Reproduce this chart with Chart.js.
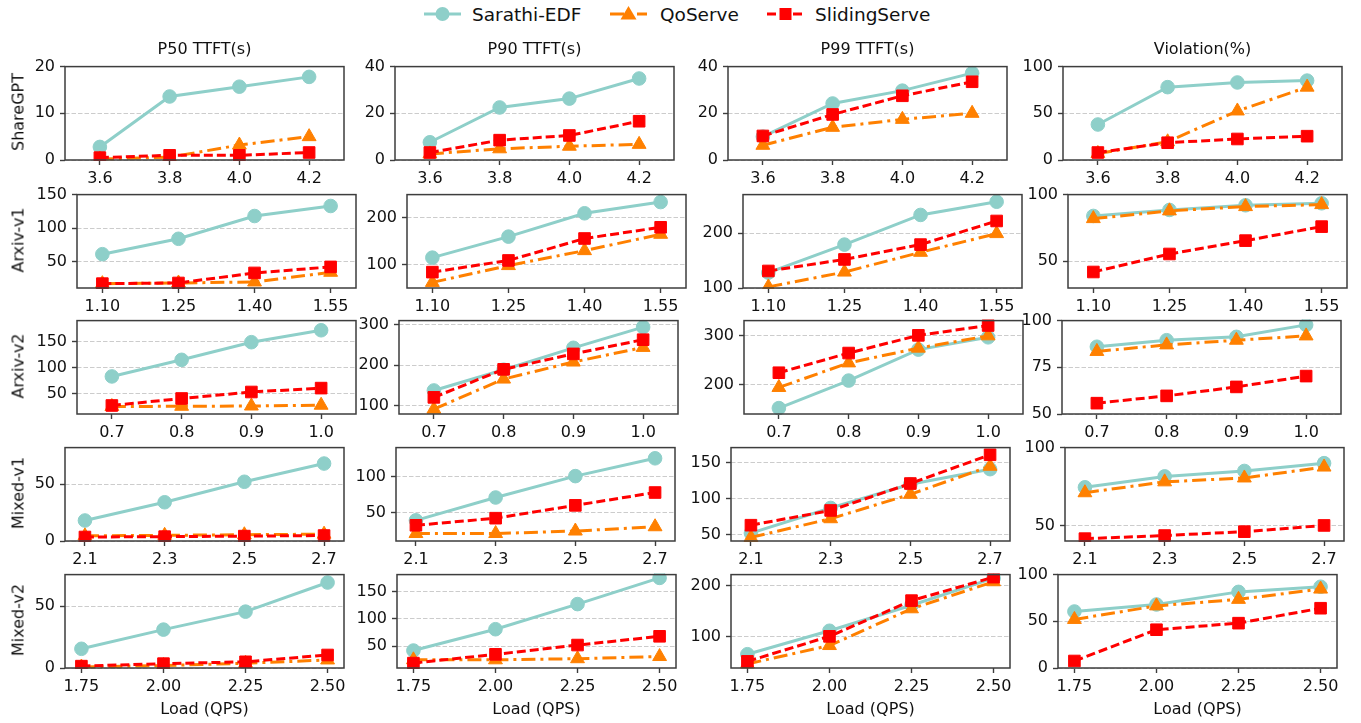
<!DOCTYPE html>
<html>
<head>
<meta charset="utf-8">
<script src="https://cdn.jsdelivr.net/npm/chart.js@4.4.0/dist/chart.umd.min.js"></script>
<style>
body { margin: 0; background: #fff; width: 1361px; height: 723px; position: relative; overflow: hidden; font-family: 'DejaVu Sans', sans-serif; }
canvas { position: absolute; }
.t { position: absolute; font-size: 16px; color: #111; white-space: nowrap; transform: translate(-50%, -50%); }
.yl { position: absolute; font-size: 16px; color: #111; white-space: nowrap; transform: translate(-50%, -50%) rotate(-90deg); }
.lg { position: absolute; font-size: 18.5px; color: #111; white-space: nowrap; transform: translateY(-50%); }
</style>
</head>
<body>
<svg width="1361" height="30" style="position:absolute;left:0;top:0">
  <line x1="424" y1="14" x2="461" y2="14" stroke="#8ECFC9" stroke-width="3"/>
  <circle cx="442.5" cy="14" r="7" fill="#8ECFC9"/>
  <line x1="610" y1="14" x2="647" y2="14" stroke="#FF8000" stroke-width="3" stroke-dasharray="14,5,3,5"/>
  <polygon points="628.5,6 636.5,19.5 620.5,19.5" fill="#FF8000"/>
  <line x1="767" y1="14" x2="804" y2="14" stroke="#FF0000" stroke-width="3" stroke-dasharray="9,4"/>
  <rect x="779.5" y="8" width="12" height="12" fill="#FF0000"/>
</svg>
<div class="lg" style="left:472px;top:14px">Sarathi-EDF</div>
<div class="lg" style="left:660px;top:14px">QoServe</div>
<div class="lg" style="left:815px;top:14px">SlidingServe</div>
<script>
// workloads (rows) and metrics (columns)
var workloads = ['ShareGPT', 'Arxiv-v1', 'Arxiv-v2', 'Mixed-v1', 'Mixed-v2'];
var metrics = ['P50 TTFT(s)', 'P90 TTFT(s)', 'P99 TTFT(s)', 'Violation(%)'];

var loads = [
    [3.6, 3.8, 4.0, 4.2],
    [1.10, 1.25, 1.40, 1.55],
    [0.7, 0.8, 0.9, 1.0],
    [2.1, 2.3, 2.5, 2.7],
    [1.75, 2.00, 2.25, 2.50]
];
var loadLabels = [
    ['3.6', '3.8', '4.0', '4.2'],
    ['1.10', '1.25', '1.40', '1.55'],
    ['0.7', '0.8', '0.9', '1.0'],
    ['2.1', '2.3', '2.5', '2.7'],
    ['1.75', '2.00', '2.25', '2.50']
];

// values per workload: [P50, P90, P99, Violation]
var sarathiShareGPT = [[2.8, 13.6, 15.7, 17.8], [7.6, 22.5, 26.3, 34.9], [10, 24.2, 29.7, 37.2], [38, 78, 83, 85]];
var qoShareGPT      = [[0.2, 0.6, 3.2, 5.0], [2.6, 4.8, 5.9, 6.7], [6.3, 14, 17.4, 20], [7, 19.5, 52.5, 78]];
var slidingShareGPT = [[0.5, 1.0, 1.0, 1.6], [3.2, 8.5, 10.5, 16.6], [10.3, 19.5, 27.5, 33.5], [8, 18.5, 22.5, 25.5]];

var sarathiArxiv1 = [[61, 84, 118, 133], [115, 160, 210, 234], [128, 179, 233, 257], [84, 88.5, 92, 93.5]];
var qoArxiv1      = [[17, 18, 19.5, 34], [62, 98, 130, 165], [102, 129, 165, 199], [82, 87.8, 91, 92.5]];
var slidingArxiv1 = [[17, 18, 33, 42], [84, 109, 156, 180], [131, 152, 179, 222], [42, 55.5, 65.5, 76]];

var sarathiArxiv2 = [[83, 115, 149, 172], [138, 189, 243, 294], [153, 209, 272, 297], [86, 89.5, 91.3, 97.7]];
var qoArxiv2      = [[25, 25.5, 26, 27.5], [92, 166, 208, 244], [195, 245, 275, 300], [83.5, 87, 89.5, 91.8]];
var slidingArxiv2 = [[27, 40.5, 53, 60.5], [121, 190, 228, 263], [225, 265, 301, 321], [55.8, 59.7, 64.5, 70.3]];

var sarathiMixed1 = [[18, 34, 52, 68], [39, 71, 101, 126], [52, 87, 120, 141], [74.5, 81.5, 85, 90]];
var qoMixed1      = [[4.5, 5, 5.5, 6], [20.5, 20.5, 24, 30], [46, 72, 106, 145], [71, 78, 80.5, 87.5]];
var slidingMixed1 = [[3.5, 3.8, 4.3, 4.8], [32, 42, 60, 78], [63, 83.5, 121, 161], [41.5, 43.5, 46, 50]];

var sarathiMixed2 = [[15.5, 31, 45.5, 69], [42, 81, 127, 175], [66, 112, 162, 215], [60.5, 68, 81.5, 87]];
var qoMixed2      = [[0.8, 2, 3.8, 6.5], [25, 25, 27, 31], [47, 83, 155, 208], [52, 66.5, 73.5, 84.5]];
var slidingMixed2 = [[1.5, 3.5, 5, 10.5], [19, 35, 52, 68], [52, 101, 171, 217], [7.5, 41, 48, 64]];

var sarathi = [sarathiShareGPT, sarathiArxiv1, sarathiArxiv2, sarathiMixed1, sarathiMixed2];
var qoserve = [qoShareGPT, qoArxiv1, qoArxiv2, qoMixed1, qoMixed2];
var sliding = [slidingShareGPT, slidingArxiv1, slidingArxiv2, slidingMixed1, slidingMixed2];

var yTicks = [
    [[0, 10, 20], [0, 20, 40], [0, 20, 40], [0, 50, 100]],
    [[50, 100, 150], [100, 200], [100, 200], [50, 100]],
    [[50, 100, 150], [100, 200, 300], [200, 300], [50, 75, 100]],
    [[0, 50], [50, 100], [50, 100, 150], [50, 100]],
    [[0, 50], [50, 100, 150], [100, 200], [0, 50, 100]]
];
var yRange = [
    [[0, 20], [0, 40], [0, 40], [0, 100]],
    [[10.5, 150], [50, 250], [100, 270], [30, 100]],
    [[10.6, 190.6], [80, 310], [141, 331], [50, 100]],
    [[0, 82], [10, 141], [41, 171], [40, 100]],
    [[0, 75.4], [10, 181], [39, 222], [0, 100]]
];
var xRange = [[3.5, 4.3], [1.05, 1.6], [0.65, 1.05], [2.05, 2.75], [1.7, 2.55]];

// layout of the axes boxes
var rowTop = [64, 192, 318, 445, 572];
var rowLefts = [
    [65, 395, 728, 1063],
    [77, 407, 743, 1068],
    [77, 399, 744, 1062],
    [65, 396, 731, 1065],
    [65, 397, 731, 1058]
];
var boxW = 279, boxH = 96;
var padL = 60, padT = 12, padR = 12, padB = 36;

var frame = {
    id: 'frame',
    afterDraw: function (chart) {
        var a = chart.chartArea, ctx = chart.ctx;
        ctx.save();
        ctx.strokeStyle = '#3d3d3d';
        ctx.lineWidth = 1.5;
        ctx.strokeRect(a.left, a.top, a.right - a.left, a.bottom - a.top);
        ctx.restore();
    }
};

function pts(xs, ys) {
    return xs.map(function (x, i) { return {x: x, y: ys[i]}; });
}

function addText(cls, txt, x, y) {
    var d = document.createElement('div');
    d.className = cls;
    d.textContent = txt;
    d.style.left = x + 'px';
    d.style.top = y + 'px';
    document.body.appendChild(d);
}

var tickFont = {family: "'DejaVu Sans', sans-serif", size: 16};

for (var r = 0; r < 5; r++) {
    for (var c = 0; c < 4; c++) {
        (function (r, c) {
            var L = rowLefts[r][c], T = rowTop[r];
            var cv = document.createElement('canvas');
            cv.width = boxW + padL + padR;
            cv.height = boxH + padT + padB;
            cv.style.left = (L - padL) + 'px';
            cv.style.top = (T - padT) + 'px';
            document.body.appendChild(cv);

            new Chart(cv.getContext('2d'), {
                type: 'line',
                data: {
                    datasets: [{
                        label: 'SlidingServe',
                        data: pts(loads[r], sliding[r][c]),
                        borderColor: '#FF0000', backgroundColor: '#FF0000',
                        borderWidth: 3, borderDash: [9, 4],
                        pointStyle: 'rect', pointRadius: 8.2, pointBorderWidth: 1,
                        clip: 1
                    }, {
                        label: 'QoServe',
                        data: pts(loads[r], qoserve[r][c]),
                        borderColor: '#FF8000', backgroundColor: '#FF8000',
                        borderWidth: 3, borderDash: [14, 5, 3, 5],
                        pointStyle: 'triangle', pointRadius: 8, pointBorderWidth: 1,
                        clip: 1
                    }, {
                        label: 'Sarathi-EDF',
                        data: pts(loads[r], sarathi[r][c]),
                        borderColor: '#8ECFC9', backgroundColor: '#8ECFC9',
                        borderWidth: 3,
                        pointStyle: 'circle', pointRadius: 6.8, pointBorderWidth: 1,
                        clip: 1
                    }]
                },
                options: {
                    responsive: false,
                    animation: false,
                    layout: {padding: {top: padT, right: padR, left: 0, bottom: 0}},
                    plugins: {legend: {display: false}, tooltip: {enabled: false}},
                    scales: {
                        x: {
                            type: 'linear',
                            min: xRange[r][0], max: xRange[r][1],
                            afterBuildTicks: function (s) { s.ticks = loads[r].map(function (v) { return {value: v}; }); },
                            afterFit: function (s) { s.height = padB; },
                            ticks: {
                                autoSkip: false, maxRotation: 0, padding: 4, color: '#111', font: tickFont,
                                callback: function (v, i) { return loadLabels[r][i]; }
                            },
                            grid: {drawOnChartArea: false, tickLength: 5, tickColor: '#3d3d3d', tickWidth: 1.4},
                            border: {display: false}
                        },
                        y: {
                            min: yRange[r][c][0], max: yRange[r][c][1],
                            afterBuildTicks: function (s) { s.ticks = yTicks[r][c].map(function (v) { return {value: v}; }); },
                            afterFit: function (s) { s.width = padL; },
                            ticks: {
                                padding: 5, color: '#111', font: tickFont,
                                callback: function (v) { return String(v); }
                            },
                            grid: {color: '#cccccc', lineWidth: 1, tickLength: 5, tickColor: '#3d3d3d', tickWidth: 1.4},
                            border: {display: false, dash: [4.5, 2]}
                        }
                    }
                },
                plugins: [frame]
            });

            if (r === 0) addText('t', metrics[c], L + boxW / 2, 48);
            if (r === 4) addText('t', 'Load (QPS)', L + boxW / 2, 708);
            if (c === 0) addText('yl', workloads[r], 18, T + boxH / 2);
        })(r, c);
    }
}
</script>
</body>
</html>
